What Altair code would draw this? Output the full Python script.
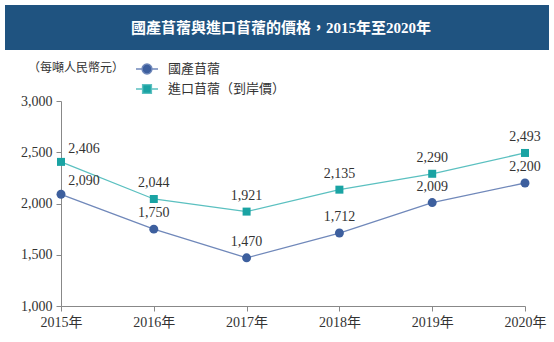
import altair as alt
import pandas as pd

years = ["2015年", "2016年", "2017年", "2018年", "2019年", "2020年"]
domestic = [2090, 1750, 1470, 1712, 2009, 2200]
imported = [2406, 2044, 1921, 2135, 2290, 2493]
series = ["國產苜蓿", "進口苜蓿（到岸價）"]
title_text = "國產苜蓿與進口苜蓿的價格，2015年至2020年"
unit_text = "（每噸人民幣元）"

point_colors = ["#3D5F9E", "#1AA3A3"]
line_colors = ["#7088BA", "#5BC0C0"]

rows = []
for y, d, i in zip(years, domestic, imported):
    rows.append({"year": y, "value": d, "series": series[0]})
    rows.append({"year": y, "value": i, "series": series[1]})
df = pd.DataFrame(rows)

SERIF = "Liberation Serif, Noto Sans CJK TC"
CJK = "Noto Sans CJK TC"

base = alt.Chart(df).encode(
    x=alt.X("year:N", sort=years,
            scale=alt.Scale(type="point", padding=0),
            axis=alt.Axis(title=None, labelAngle=0, labelPadding=4)),
    y=alt.Y("value:Q", scale=alt.Scale(domain=[1000, 3000], nice=False),
            axis=alt.Axis(title=None, values=[1000, 1500, 2000, 2500, 3000],
                          format=",.0f", labelPadding=4)),
)

# data-derived domain (sorted) so this legend-less scale is not merged with the legend below
lines = base.mark_line(strokeWidth=1.3).encode(
    color=alt.Color("series:N", sort=series, scale=alt.Scale(range=line_colors), legend=None)
)

dom_pts = base.mark_point(filled=True, opacity=1, shape="circle", size=80,
                          color=point_colors[0]).transform_filter(alt.datum.series == series[0])
imp_pts = base.mark_point(filled=True, opacity=1, shape="square", size=64,
                          color=point_colors[1]).transform_filter(alt.datum.series == series[1])

circle_path = "M-1,0H-0.45M0.45,0H1M0.45,0A0.45,0.45,0,1,1,-0.45,0A0.45,0.45,0,1,1,0.45,0Z"
square_path = "M-1,0H-0.4M0.4,0H1M-0.4,-0.4H0.4V0.4H-0.4Z"

leg = alt.Legend(
    title=None, orient="none", legendX=74, legendY=-44,
    padding=0, symbolSize=484, rowPadding=-3, symbolStrokeWidth=1.4,
    symbolOpacity=1,
    labelFont=CJK, labelFontSize=13, labelColor="#333", labelOffset=9,
)

legend_layer = base.mark_point(filled=True, opacity=0).encode(
    shape=alt.Shape("series:N", scale=alt.Scale(domain=series, range=[circle_path, square_path]), legend=leg),
    fill=alt.Fill("series:N", scale=alt.Scale(domain=series, range=point_colors), legend=leg),
    stroke=alt.Stroke("series:N", scale=alt.Scale(domain=series, range=line_colors), legend=leg),
)

label_first = base.mark_text(font=SERIF, fontSize=14, color="#333", dx=23, dy=-13).encode(
    text=alt.Text("value:Q", format=",")
).transform_filter(alt.datum.year == years[0])

label_rest = base.mark_text(font=SERIF, fontSize=14, color="#333", dy=-16).encode(
    text=alt.Text("value:Q", format=",")
).transform_filter(alt.datum.year != years[0])

hdr = pd.DataFrame({"t": [title_text], "u": [unit_text]})
banner = alt.Chart(hdr).mark_rect(color="#1F5380").encode(
    x=alt.value(-56), x2=alt.value(488), y=alt.value(-96), y2=alt.value(-51)
)
banner_text = alt.Chart(hdr).mark_text(
    font=SERIF, fontSize=15, fontWeight="bold", color="white", align="center", baseline="middle"
).encode(x=alt.value(220), y=alt.value(-73), text="t:N")
unit = alt.Chart(hdr).mark_text(
    font=CJK, fontSize=12, color="#333", align="center", baseline="middle"
).encode(x=alt.value(15), y=alt.value(-33), text="u:N")

chart = alt.layer(banner, banner_text, unit, lines, dom_pts, imp_pts, legend_layer,
                  label_first, label_rest).properties(
    width=464, height=205,
    padding={"left": 61, "top": 101, "right": 29, "bottom": 36},
    autosize="none",
    background="white",
).configure_view(stroke=None).configure_axis(
    grid=False, domainColor="#888", tickColor="#888", tickSize=5,
    labelFont=SERIF, labelFontSize=14, labelColor="#333",
)

chart.save("out.html", embed_options={"renderer": "svg", "actions": False})
